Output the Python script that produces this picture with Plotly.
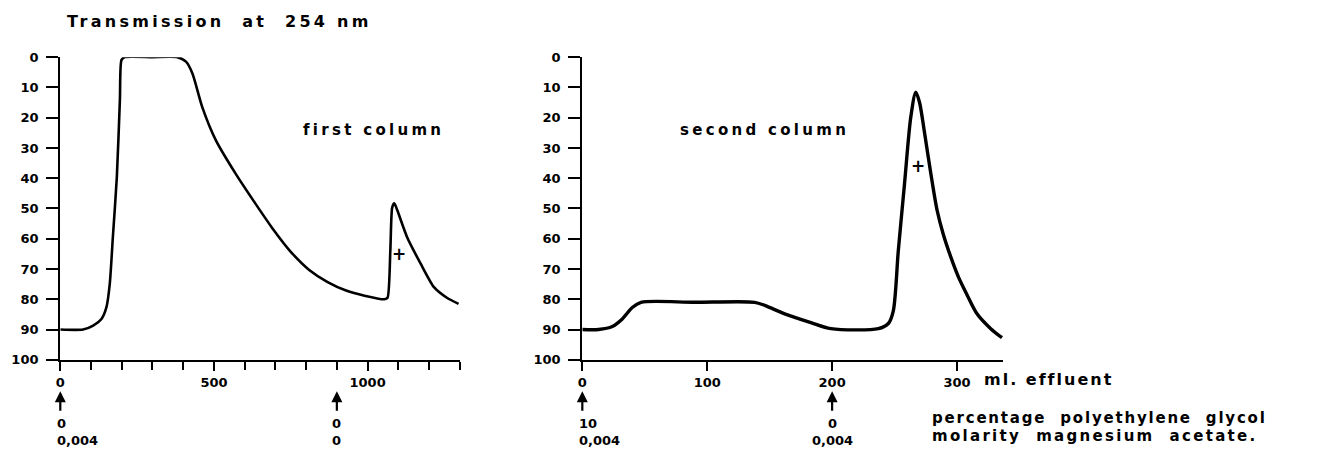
import plotly.graph_objects as go

# ---------------- data ----------------
# first column: ml effluent vs transmission (%)
first_ml = [0, 74, 107, 134, 150, 161, 171, 184, 194, 199, 210, 300, 381, 409, 430, 462, 506,
            570, 635, 690, 750, 810, 870, 930, 990, 1055, 1065, 1074, 1080, 1087, 1097, 1129,
            1173, 1216, 1258, 1296]
first_T = [90, 90, 88.7, 86.5, 82.7, 74.9, 59.6, 39.7, 14, 1, 0, 0, 0, 1.5, 5.4, 16.5, 27.4,
           38.4, 48.4, 56.5, 64.3, 70.3, 74.3, 77.1, 78.8, 80, 79.5, 63.9, 49.7, 48.3, 50.7, 59.6,
           68.3, 76, 79.5, 81.5]

# second column
second_ml = [0, 13, 24, 32, 40, 47, 90, 138, 146, 162, 183, 199, 237, 245, 249, 253, 258, 263,
             267, 270, 274, 279, 284, 289, 295, 301, 308, 316, 327, 336]
second_T = [90, 90, 89, 86.5, 82.7, 81, 81, 81, 82, 84.8, 87.7, 89.7, 89.7, 88, 83.8, 63.9, 41.7,
            19.8, 11.6, 15, 25, 38.4, 50.5, 58.5, 66, 72.5, 78.5, 84.8, 89.7, 92.7]

# "+" marks (peak positions)
first_plus = (1103, 65)
second_plus = (269, 36)

# solvent change markers
first_marks_ml = [0, 900]
first_peg = ["0", "0"]
first_mg = ["0,004", "0"]
second_marks_ml = [0, 200]
second_peg = ["10", "0"]
second_mg = ["0,004", "0,004"]

y_ticks = [0, 10, 20, 30, 40, 50, 60, 70, 80, 90, 100]

# ---------------- layout helpers ----------------
W, H = 1328, 449
# map target pixel positions to figure fractions (compensates page offset/scale)
def px(x):
    return (x - 4) / W
def py(y):
    return 1 - ((y - 6.9) / 0.966) / H

FONT = "DejaVu Sans"
def sp(text, ls):
    return f'<span style="letter-spacing:{ls}px">{text}</span>'

fig = go.Figure()
fig.add_trace(go.Scatter(x=first_ml, y=first_T, mode="lines", xaxis="x", yaxis="y",
                         line=dict(color="black", width=2.6, shape="spline", smoothing=0.6),
                         showlegend=False, hoverinfo="skip"))
fig.add_trace(go.Scatter(x=second_ml, y=second_T, mode="lines", xaxis="x2", yaxis="y2",
                         line=dict(color="black", width=3.4, shape="spline", smoothing=0.8),
                         showlegend=False, hoverinfo="skip"))

ydom = [py(359.5), py(57)]
axis_common = dict(showline=True, linecolor="black", linewidth=2.4, ticks="outside",
                   tickcolor="black", tickwidth=2, showgrid=False, zeroline=False,
                   tickfont=dict(family=FONT, size=13, color="black", weight="bold"))

yaxis_common = dict(axis_common, range=[100, 0], tickvals=y_ticks, ticklen=12,
                    ticklabelstandoff=5)

fig.update_layout(
    width=W, height=H,
    margin=dict(l=0, r=0, t=0, b=0),
    paper_bgcolor="white", plot_bgcolor="white",
    xaxis=dict(axis_common, domain=[px(59.5), px(460.5)], range=[0, 1300],
               tickvals=[0, 500, 1000], ticklen=9, anchor="y",
               minor=dict(tickvals=list(range(100, 1301, 100)), ticks="outside", ticklen=8,
                          tickwidth=1.6, tickcolor="black", showgrid=False)),
    yaxis=dict(yaxis_common, domain=ydom, anchor="x"),
    xaxis2=dict(axis_common, domain=[px(583.5), px(1006)], range=[0, 337],
                tickvals=[0, 100, 200, 300], ticklen=9, anchor="y2"),
    yaxis2=dict(yaxis_common, domain=ydom, anchor="x2"),
)

ann = []
bold = lambda s: dict(family=FONT, size=s, color="black", weight="bold")

# titles
ann.append(dict(text=sp("Transmission&nbsp;&nbsp;at&nbsp;&nbsp;254 nm", 3.3), x=px(219), y=py(21),
                xref="paper", yref="paper", xanchor="center", yanchor="middle",
                showarrow=False, font=bold(16)))
ann.append(dict(text=sp("first&nbsp;column", 3.3), x=px(373.5), y=py(130), xref="paper",
                yref="paper", xanchor="center", yanchor="middle", showarrow=False, font=bold(15)))
ann.append(dict(text=sp("second&nbsp;column", 3.3), x=px(766.5), y=py(130), xref="paper",
                yref="paper", xanchor="center", yanchor="middle", showarrow=False, font=bold(15)))

# plus marks
ann.append(dict(text="+", x=first_plus[0], y=first_plus[1], xref="x", yref="y",
                showarrow=False, font=bold(17)))
ann.append(dict(text="+", x=second_plus[0], y=second_plus[1], xref="x2", yref="y2",
                showarrow=False, font=bold(17)))

# x-axis unit label
ann.append(dict(text=sp("ml.&nbsp;effluent", 2.0), x=px(985), y=py(379), xref="paper", yref="paper",
                xanchor="left", yanchor="middle", showarrow=False, font=bold(16)))

# solvent markers
def markers(xs, pegs, mgs, xref, first_left):
    for i, (xv, a, b) in enumerate(zip(xs, pegs, mgs)):
        ann.append(dict(text="", x=xv, y=py(391), xref=xref, yref="paper", showarrow=True,
                        ax=0, ay=21, axref="pixel", ayref="pixel", arrowhead=2, arrowsize=1,
                        arrowwidth=2.2, arrowcolor="black", standoff=0))
        if i == 0 and first_left:
            anchor, shift = "left", -5
        else:
            anchor, shift = "center", 0
        ann.append(dict(text=a, x=xv, y=py(423), xref=xref, yref="paper", xanchor=anchor,
                        xshift=shift, yanchor="middle", showarrow=False, font=bold(13)))
        ann.append(dict(text=b, x=xv, y=py(440), xref=xref, yref="paper", xanchor=anchor,
                        xshift=shift, yanchor="middle", showarrow=False, font=bold(13)))

markers(first_marks_ml, first_peg, first_mg, "x", True)
markers(second_marks_ml, second_peg, second_mg, "x2", True)

ann.append(dict(text=sp("percentage&nbsp;&nbsp;polyethylene&nbsp;&nbsp;glycol", 1.8), x=px(932),
                y=py(418), xref="paper", yref="paper", xanchor="left", yanchor="middle",
                showarrow=False, font=bold(15)))
ann.append(dict(text=sp("molarity&nbsp;&nbsp;magnesium&nbsp;&nbsp;acetate.", 2.3), x=px(932),
                y=py(436), xref="paper", yref="paper", xanchor="left", yanchor="middle",
                showarrow=False, font=bold(15)))

fig.update_layout(annotations=ann)
fig.write_html("out.html", config={"displayModeBar": False},
               post_script="document.body.style.margin='0';document.body.style.overflow='hidden';")
